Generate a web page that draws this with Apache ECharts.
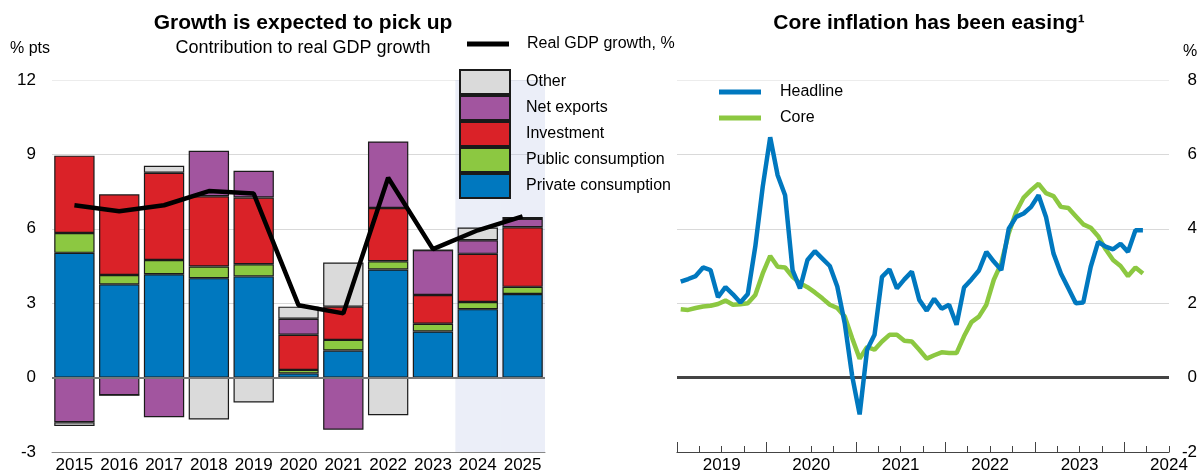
<!DOCTYPE html>
<html>
<head>
<meta charset="utf-8">
<script src="https://cdn.jsdelivr.net/npm/echarts@6/dist/echarts.min.js"></script>
<style>
html,body{margin:0;padding:0;background:#fff}
#chart{width:1203px;height:476px}
</style>
</head>
<body>
<div id="chart"></div>
<script>
// left panel: contributions to real GDP growth, % pts
var years = ['2015','2016','2017','2018','2019','2020','2021','2022','2023','2024','2025'];
var privateCons = [5.03, 3.76, 4.17, 4.01, 4.08, 0.17, 1.09, 4.36, 1.86, 2.76, 3.37];
var publicCons  = [0.80, 0.38, 0.57, 0.47, 0.49, 0.14, 0.43, 0.33, 0.31, 0.29, 0.29];
var investment  = [3.12, 3.25, 3.52, 2.83, 2.69, 1.42, 1.34, 2.15, 1.16, 1.94, 2.40];
var netExports  = [-1.80, -0.71, -1.60, 1.84, 1.08, 0.64, -2.10, 2.68, 1.81, 0.55, 0.34];
var other       = [-0.15, 0, 0.28, -1.69, -1.00, 0.49, 1.78, -1.52, 0, 0.51, 0.08];
var gdpGrowth   = [6.95, 6.71, 6.95, 7.52, 7.42, 2.92, 2.59, 8.06, 5.18, 5.94, 6.50];
// projection years shading
var forecastTop    = [null, null, null, null, null, null, null, null, null, 12, 12];
var forecastBottom = [null, null, null, null, null, null, null, null, null, -3, -3];

// right panel: monthly inflation, %, Jan 2019 onwards
var headline = [2.58, 2.65, 2.73, 2.96, 2.89, 2.16, 2.43, 2.24, 2.02, 2.25, 3.52, 5.13,
                6.46, 5.44, 4.90, 2.89, 2.40, 3.16, 3.40, 3.20, 3.00, 2.45, 1.46, 0.04,
                -0.99, 0.75, 1.15, 2.71, 2.91, 2.40, 2.64, 2.85, 2.09, 1.80, 2.12, 1.85,
                1.96, 1.42, 2.42, 2.64, 2.88, 3.38, 3.12, 2.89, 4.00, 4.32, 4.41, 4.59,
                4.90, 4.32, 3.34, 2.80, 2.40, 2.00, 2.02, 2.98, 3.65, 3.52, 3.45, 3.60,
                3.38, 3.96, 3.96];
var core = [1.84, 1.82, 1.87, 1.91, 1.93, 1.98, 2.07, 1.96, 1.97, 2.00, 2.22, 2.80,
            3.27, 2.98, 2.96, 2.71, 2.54, 2.43, 2.29, 2.13, 1.96, 1.87, 1.64, 1.06,
            0.51, 0.82, 0.75, 0.97, 1.15, 1.15, 0.99, 0.97, 0.75, 0.51, 0.60, 0.68,
            0.66, 0.66, 1.11, 1.49, 1.64, 1.96, 2.63, 3.07, 3.88, 4.46, 4.84, 5.04,
            5.21, 4.96, 4.88, 4.59, 4.56, 4.34, 4.12, 4.03, 3.80, 3.45, 3.16, 3.00,
            2.73, 2.96, 2.80];
var yearLabels = ['2019','2020','2021','2022','2023','2024'];

var months = [];
for (var y = 2019; y <= 2024; y++) {
	for (var m = 1; m <= 12; m++) {
		if (y === 2024 && m > 6) break;
		months.push(y + '-' + (m < 10 ? '0' + m : m));
	}
}
var nMonths = months.length;
var quarterTicks = [], yearTicks = [], yearLabelPos = [];
for (var i = 0; i <= nMonths; i += 3) quarterTicks.push(i);
for (var i = 0; i < nMonths; i += 12) yearTicks.push(i);
for (var i = 6; i <= nMonths; i += 12) yearLabelPos.push(i);

var FONT = 'Arial, "Liberation Sans", sans-serif';
var C_PRIV = '#0078BF', C_PUB = '#8CC841', C_INV = '#DA2228', C_NX = '#A2559F', C_OTH = '#DADADA';
var C_HEAD = '#0078BF', C_CORE = '#8CC841';
var GRID_COLORS = ['rgba(0,0,0,0)', '#d9d9d9', '#d9d9d9', '#d9d9d9', '#d9d9d9', '#ececec'];

function barSeries(name, data, color) {
	return {
		name: name, type: 'bar', stack: 'contrib',
		xAxisIndex: 0, yAxisIndex: 0, barWidth: '90%',
		itemStyle: {color: color, borderColor: '#1a1a1a', borderWidth: 1.2},
		emphasis: {disabled: true}, z: 3, data: data
	};
}

var myChart = echarts.init(document.getElementById('chart'));
var option = {
	animation: false,
	textStyle: {fontFamily: FONT, color: '#000'},
	title: [
		{
			text: 'Growth is expected to pick up',
			subtext: 'Contribution to real GDP growth',
			left: 298, top: 8, textAlign: 'center', itemGap: 5,
			textStyle: {fontFamily: FONT, fontSize: 21, fontWeight: 'bold', color: '#000'},
			subtextStyle: {fontFamily: FONT, fontSize: 18, color: '#000'}
		},
		{
			text: 'Core inflation has been easing¹',
			left: 924, top: 8, textAlign: 'center',
			textStyle: {fontFamily: FONT, fontSize: 21, fontWeight: 'bold', color: '#000'}
		},
		{text: '% pts', left: 5, top: 36, textStyle: {fontFamily: FONT, fontSize: 16, fontWeight: 'normal', color: '#000'}},
		{text: '%', left: 1178, top: 39, textStyle: {fontFamily: FONT, fontSize: 16, fontWeight: 'normal', color: '#000'}}
	],
	legend: [
		{
			data: ['Real GDP growth, %'], left: 462, top: 31,
			icon: 'rect', itemWidth: 42, itemHeight: 5, selectedMode: false,
			textStyle: {fontFamily: FONT, fontSize: 16, color: '#000', padding: [0, 0, 0, 13]}
		},
		{
			data: ['Other', 'Net exports', 'Investment', 'Public consumption', 'Private consumption'],
			left: 454, top: 64, orient: 'vertical',
			icon: 'rect', itemWidth: 50, itemHeight: 24, itemGap: 0, selectedMode: false,
			textStyle: {fontFamily: FONT, fontSize: 16, color: '#000', padding: [2, 0, 0, 11]}
		},
		{
			data: ['Headline', 'Core'], left: 714, top: 78, orient: 'vertical',
			icon: 'rect', itemWidth: 42, itemHeight: 5, itemGap: 8, selectedMode: false,
			textStyle: {fontFamily: FONT, fontSize: 16, color: '#000', lineHeight: 18, padding: [0, 0, 0, 14]}
		}
	],
	grid: [
		{left: 52, right: 658, top: 80, bottom: 24},
		{left: 677, right: 34, top: 80, bottom: 24}
	],
	xAxis: [
		{
			type: 'category', gridIndex: 0, data: years, position: 'bottom', z: 4,
			axisLine: {show: true, onZero: false, lineStyle: {color: '#888', width: 1}},
			axisTick: {inside: true, length: 6, lineStyle: {color: '#777'}},
			axisLabel: {interval: 0, fontFamily: FONT, fontSize: 17, color: '#000', margin: 5}
		},
		{type: 'category', gridIndex: 0, data: years, show: false, position: 'bottom'},
		{type: 'category', gridIndex: 1, data: months, show: false, position: 'bottom'},
		{
			type: 'value', gridIndex: 1, min: 0, max: nMonths, position: 'bottom', z: 4,
			axisLine: {show: true, onZero: false, lineStyle: {color: '#444', width: 1.2}},
			axisTick: {show: true, inside: true, length: 6, lineStyle: {color: '#444'}, customValues: quarterTicks},
			axisLabel: {
				fontFamily: FONT, fontSize: 17, color: '#000', margin: 5,
				customValues: yearLabelPos,
				formatter: function (v) { return yearLabels[Math.floor(v / 12)] || ''; }
			},
			splitLine: {show: false}
		},
		{
			type: 'value', gridIndex: 1, min: 0, max: nMonths, position: 'bottom', z: 4,
			axisLine: {show: false, onZero: false},
			axisTick: {show: true, inside: true, length: 10, lineStyle: {color: '#444'}, customValues: yearTicks},
			axisLabel: {show: false},
			splitLine: {show: false}
		}
	],
	yAxis: [
		{
			type: 'value', gridIndex: 0, min: -3, max: 12, interval: 3,
			axisLine: {show: false}, axisTick: {show: false},
			axisLabel: {fontFamily: FONT, fontSize: 17, color: '#000', margin: 16},
			splitLine: {lineStyle: {color: GRID_COLORS, width: 1}}
		},
		{
			type: 'value', gridIndex: 1, position: 'right', min: -2, max: 8, interval: 2,
			axisLine: {show: false}, axisTick: {show: false},
			axisLabel: {fontFamily: FONT, fontSize: 17, color: '#000', margin: 28, align: 'right'},
			splitLine: {lineStyle: {color: GRID_COLORS, width: 1}}
		}
	],
	series: [
		{
			name: 'projection', type: 'bar', stack: 'shade',
			xAxisIndex: 1, yAxisIndex: 0, barWidth: '100%', silent: true, z: 1,
			itemStyle: {color: 'rgba(190,200,232,0.3)'}, data: forecastTop
		},
		{
			name: 'projection2', type: 'bar', stack: 'shade',
			xAxisIndex: 1, yAxisIndex: 0, barWidth: '100%', silent: true, z: 1,
			itemStyle: {color: 'rgba(190,200,232,0.3)'}, data: forecastBottom
		},
		barSeries('Private consumption', privateCons, C_PRIV),
		barSeries('Public consumption', publicCons, C_PUB),
		barSeries('Investment', investment, C_INV),
		barSeries('Net exports', netExports, C_NX),
		barSeries('Other', other, C_OTH),
		{
			name: 'Real GDP growth, %', type: 'line',
			xAxisIndex: 0, yAxisIndex: 0, showSymbol: false, z: 5,
			itemStyle: {color: '#000'},
			lineStyle: {color: '#000', width: 4.5},
			markLine: {
				silent: true, symbol: 'none', label: {show: false},
				lineStyle: {color: '#777', width: 2, type: 'solid'},
				data: [{yAxis: 0}]
			},
			data: gdpGrowth
		},
		{
			name: 'Core', type: 'line',
			xAxisIndex: 2, yAxisIndex: 1, showSymbol: false, z: 4,
			itemStyle: {color: C_CORE},
			lineStyle: {color: C_CORE, width: 4.5},
			markLine: {
				silent: true, symbol: 'none', label: {show: false},
				lineStyle: {color: '#444', width: 3, type: 'solid'},
				data: [{yAxis: 0}]
			},
			data: core
		},
		{
			name: 'Headline', type: 'line',
			xAxisIndex: 2, yAxisIndex: 1, showSymbol: false, z: 5,
			itemStyle: {color: C_HEAD},
			lineStyle: {color: C_HEAD, width: 4.5},
			data: headline
		}
	]
};
myChart.setOption(option, true);
</script>
</body>
</html>
